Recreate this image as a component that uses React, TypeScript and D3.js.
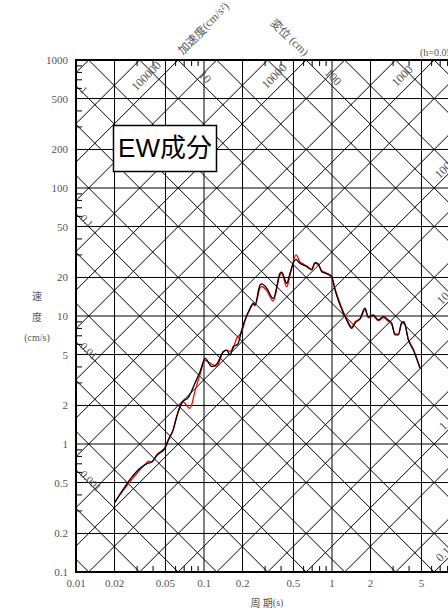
import React from 'react';
import * as d3 from 'd3';

// ---- axis data ----
const xTicks = [0.01, 0.02, 0.05, 0.1, 0.2, 0.5, 1, 2, 5, 10];
const xTickLabels = ['0.01', '0.02', '0.05', '0.1', '0.2', '0.5', '1', '2', '5', '10'];
const yTicks = [0.1, 0.2, 0.5, 1, 2, 5, 10, 20, 50, 100, 200, 500, 1000];
const yTickLabels = ['0.1', '0.2', '0.5', '1', '2', '5', '10', '20', '50', '100', '200', '500', '1000'];
const minorMantissa = [3, 4, 6, 7, 8, 9];
const lineMantissa = [1, 2, 5];
const dispExponents = [-5, -4, -3, -2, -1, 0, 1, 2, 3];
const accExponents = [-3, -2, -1, 0, 1, 2, 3, 4, 5, 6, 7];

// diagonal labels
const dispLeftLabels = [1, 0.1, 0.01, 0.001];
const dispLeftText = ['1', '0.1', '0.01', '0.001'];
const dispTopLabels = [10, 100];
const dispTopText = ['10', '100'];
const accTopLabels = [100000, 10000, 1000];
const accTopText = ['100000', '10000', '1000'];
const accRightLabels = [100, 10, 1, 0.1];
const accRightText = ['100', '10', '1', '0.1'];

// ---- series data (period s, velocity cm/s) ----
const periodsBlack = [0.02, 0.0356, 0.039, 0.043, 0.0496, 0.0526, 0.0575, 0.0612, 0.0682, 0.075, 0.0851, 0.0931, 0.102, 0.115, 0.1256, 0.1415, 0.15, 0.16, 0.169, 0.184, 0.197, 0.209, 0.229, 0.243, 0.25, 0.274, 0.282, 0.309, 0.348, 0.393, 0.405, 0.443, 0.47, 0.514, 0.524, 0.562, 0.597, 0.634, 0.694, 0.736, 0.781, 0.831, 0.882, 0.935, 0.995, 1.055, 1.155, 1.3, 1.43, 1.51, 1.66, 1.81, 1.92, 2.1, 2.3, 2.52, 2.75, 2.93, 3.1, 3.3, 3.51, 3.65, 3.95, 4.32, 4.87];
const velBlack = [0.346, 0.7, 0.72, 0.82, 0.925, 1.07, 1.29, 1.63, 2.14, 2.29, 3.0, 3.67, 4.67, 4.02, 4.2, 5.26, 5.42, 4.95, 5.75, 6.04, 7.78, 9.31, 11.5, 12.6, 12.2, 17.5, 17.8, 16.5, 13.7, 21.6, 22.0, 18.0, 21.6, 27.4, 27.6, 25.8, 25.0, 24.3, 22.9, 26.1, 25.5, 22.2, 21.6, 21.3, 20.3, 16.0, 12.2, 9.31, 8.01, 8.77, 9.59, 11.5, 9.82, 10.2, 9.31, 9.89, 9.31, 8.77, 7.11, 7.11, 8.97, 9.03, 6.49, 5.42, 3.9];

const periodsRed = [0.02, 0.0356, 0.037, 0.039, 0.043, 0.0496, 0.0526, 0.0575, 0.0612, 0.0682, 0.0778, 0.0851, 0.0931, 0.102, 0.115, 0.1256, 0.1415, 0.15, 0.16, 0.169, 0.18, 0.197, 0.209, 0.229, 0.243, 0.25, 0.274, 0.282, 0.309, 0.348, 0.393, 0.405, 0.443, 0.47, 0.524, 0.562, 0.597, 0.634, 0.694, 0.736, 0.781, 0.831, 0.882, 0.935, 0.995, 1.055, 1.155, 1.3, 1.43, 1.51, 1.66, 1.81, 1.92, 2.1, 2.3, 2.52, 2.75, 2.93, 3.1, 3.3, 3.51, 3.65, 3.95, 4.32, 4.87];
const velRed = [0.352, 0.71, 0.735, 0.725, 0.83, 0.94, 1.08, 1.3, 1.65, 2.14, 1.9, 2.6, 3.5, 4.5, 4.2, 4.06, 5.26, 5.4, 5.3, 5.6, 6.7, 7.5, 9.2, 11.3, 12.4, 12.0, 16.6, 17.0, 15.8, 13.1, 21.0, 21.5, 16.9, 21.0, 30.0, 26.4, 25.5, 24.6, 23.2, 25.8, 25.2, 22.6, 21.9, 21.0, 20.0, 16.4, 12.5, 9.5, 8.2, 9.0, 9.5, 11.2, 9.7, 10.0, 9.2, 9.7, 9.1, 8.6, 7.3, 7.2, 8.8, 8.9, 6.6, 5.5, 3.95];

const W = 448;
const H = 613;
const left = 76;
const right = 460;
const top = 60;
const bottom = 572;

const serif = '"Liberation Serif", "DejaVu Serif", serif';
const cjk = '"Noto Sans CJK JP", "Noto Sans", sans-serif';
const sans = '"Liberation Sans", "Noto Sans CJK JP", sans-serif';
const textGray = '#555';

export default function App() {
  const x = d3.scaleLog().domain([0.01, 10]).range([left, right]);
  const y = d3.scaleLog().domain([0.1, 1000]).range([bottom, top]);
  const TWO_PI = 2 * Math.PI;

  const dispValues: number[] = [];
  dispExponents.forEach((e) => lineMantissa.forEach((m) => dispValues.push(m * Math.pow(10, e))));
  const accValues: number[] = [];
  accExponents.forEach((e) => lineMantissa.forEach((m) => accValues.push(m * Math.pow(10, e))));

  const t0 = 0.01;
  const t1 = 10;
  // displacement: V = 2*pi*D/T ; acceleration: V = A*T/(2*pi)
  const dispLine = (D: number) => ({ x1: x(t0), y1: y((TWO_PI * D) / t0), x2: x(t1), y2: y((TWO_PI * D) / t1) });
  const accLine = (A: number) => ({ x1: x(t0), y1: y((A * t0) / TWO_PI), x2: x(t1), y2: y((A * t1) / TWO_PI) });

  const dispYatX = (D: number, px: number) => y((TWO_PI * D) / x.invert(px));
  const dispXatY = (D: number, py: number) => x((TWO_PI * D) / y.invert(py));
  const accYatX = (A: number, px: number) => y((A * x.invert(px)) / TWO_PI);
  const accXatY = (A: number, py: number) => x((TWO_PI * y.invert(py)) / A);

  const minorX: number[] = [];
  [-2, -1, 0].forEach((e) => minorMantissa.forEach((m) => minorX.push(m * Math.pow(10, e))));
  const minorY: number[] = [];
  [-1, 0, 1, 2].forEach((e) => minorMantissa.forEach((m) => minorY.push(m * Math.pow(10, e))));

  const line = d3
    .line<[number, number]>()
    .x((d) => x(d[0]))
    .y((d) => y(d[1]))
    .curve(d3.curveMonotoneX);
  const blackData = periodsBlack.map((p, i) => [p, velBlack[i]] as [number, number]);
  const redData = periodsRed.map((p, i) => [p, velRed[i]] as [number, number]);

  const tickLen = 6;

  return (
    <svg width={W} height={H} style={{ position: 'absolute', left: 0, top: 0, background: '#fff' }}>
      <defs>
        <clipPath id="plot">
          <rect x={left} y={top} width={right - left} height={bottom - top} />
        </clipPath>
      </defs>
      <rect x={0} y={0} width={W} height={H} fill="#fff" />
      <g clipPath="url(#plot)">
        {xTicks.map((t) => (
          <line key={'gx' + t} x1={x(t)} x2={x(t)} y1={top} y2={bottom} stroke="#000" strokeWidth={1} />
        ))}
        {yTicks.map((t) => (
          <line key={'gy' + t} x1={left} x2={right} y1={y(t)} y2={y(t)} stroke="#000" strokeWidth={1} />
        ))}
        {dispValues.map((D) => {
          const l = dispLine(D);
          return <line key={'d' + D} {...l} stroke="#000" strokeWidth={1} />;
        })}
        {accValues.map((A) => {
          const l = accLine(A);
          return <line key={'a' + A} {...l} stroke="#000" strokeWidth={1} />;
        })}
        {minorX.map((t) => (
          <g key={'mx' + t}>
            <line x1={x(t)} x2={x(t)} y1={top} y2={top + tickLen} stroke="#000" strokeWidth={1} />
            <line x1={x(t)} x2={x(t)} y1={bottom} y2={bottom - tickLen} stroke="#000" strokeWidth={1} />
          </g>
        ))}
        {minorY.map((t) => (
          <g key={'my' + t}>
            <line x1={left} x2={left + tickLen} y1={y(t)} y2={y(t)} stroke="#000" strokeWidth={1} />
            <line x1={right} x2={right - tickLen} y1={y(t)} y2={y(t)} stroke="#000" strokeWidth={1} />
          </g>
        ))}
        {dispLeftLabels.map((D, i) => {
          const px = left + 6;
          const py = dispYatX(D, px) - 4;
          return (
            <text key={'dl' + D} transform={`translate(${px},${py}) rotate(45)`} fontFamily={serif} fontSize={11} fill={textGray} textAnchor="start" dominantBaseline="central">
              {dispLeftText[i]}
            </text>
          );
        })}
        {dispTopLabels.map((D, i) => {
          const cy = 77;
          const cx = dispXatY(D, cy) + 10;
          return (
            <text key={'dt' + D} transform={`translate(${cx},${cy}) rotate(45)`} fontFamily={serif} fontSize={12} fill={textGray} textAnchor="middle" dominantBaseline="central">
              {dispTopText[i]}
            </text>
          );
        })}
      </g>
      {accTopLabels.map((A, i) => {
        const cy = 76;
        const cx = accXatY(A, cy) - 16;
        return (
          <text key={'at' + A} transform={`translate(${cx},${cy}) rotate(-45)`} fontFamily={serif} fontSize={12} fill={textGray} textAnchor="middle" dominantBaseline="central">
            {accTopText[i]}
          </text>
        );
      })}
      {accRightLabels.map((A, i) => {
        const cx = 443;
        const cy = accYatX(A, cx) - 9;
        return (
          <text key={'ar' + A} transform={`translate(${cx},${cy}) rotate(-45)`} fontFamily={serif} fontSize={12} fill={textGray} textAnchor="middle" dominantBaseline="central">
            {accRightText[i]}
          </text>
        );
      })}
      {/* EW box */}
      <rect x={113.5} y={125.5} width={103} height={46} fill="#fff" stroke="#000" strokeWidth={1.5} />
      <text x={165} y={157} textAnchor="middle" fontFamily={sans} fontSize={26} fill="#000">
        EW成分
      </text>
      {/* curves */}
      <g clipPath="url(#plot)">
        <path d={line(redData) || ''} fill="none" stroke="#f00" strokeWidth={1.3} />
        <path d={line(blackData) || ''} fill="none" stroke="#000" strokeWidth={1.3} />
      </g>
      {/* frame */}
      <rect x={left} y={top} width={right - left} height={bottom - top} fill="none" stroke="#000" strokeWidth={2} />
      {/* tick labels */}
      {xTicks.map((t, i) => (
        <text key={'xl' + t} x={x(t)} y={587} textAnchor="middle" fontFamily={serif} fontSize={11} fill={textGray}>
          {xTickLabels[i]}
        </text>
      ))}
      {yTicks.map((t, i) => (
        <text key={'yl' + t} x={68} y={y(t)} textAnchor="end" dominantBaseline="central" fontFamily={serif} fontSize={11} fill={textGray}>
          {yTickLabels[i]}
        </text>
      ))}
      {/* axis titles */}
      <text x={37} y={295} textAnchor="middle" dominantBaseline="central" fontFamily={cjk} fontSize={10} fill={textGray}>速</text>
      <text x={37} y={316} textAnchor="middle" dominantBaseline="central" fontFamily={cjk} fontSize={10} fill={textGray}>度</text>
      <text x={37} y={337} textAnchor="middle" dominantBaseline="central" fontFamily={serif} fontSize={10} fill={textGray}>(cm/s)</text>
      <text x={267} y={602} textAnchor="middle" dominantBaseline="central" fontSize={10} fill={textGray}>
        <tspan fontFamily={cjk}>周 期</tspan>
        <tspan fontFamily={serif}>(s)</tspan>
      </text>
      <text transform="translate(203,28) rotate(-45)" textAnchor="middle" dominantBaseline="central" fontSize={11.5} fill={textGray}>
        <tspan fontFamily={cjk}>加速度</tspan>
        <tspan fontFamily={serif}>(cm/s²)</tspan>
      </text>
      <text transform="translate(290,37) rotate(45)" textAnchor="middle" dominantBaseline="central" fontSize={11.5} fill={textGray}>
        <tspan fontFamily={cjk}>変位</tspan>
        <tspan fontFamily={serif}> (cm)</tspan>
      </text>
      <text x={420} y={56} fontFamily={serif} fontSize={10} fill={textGray}>
        (h=0.05)
      </text>
    </svg>
  );
}
